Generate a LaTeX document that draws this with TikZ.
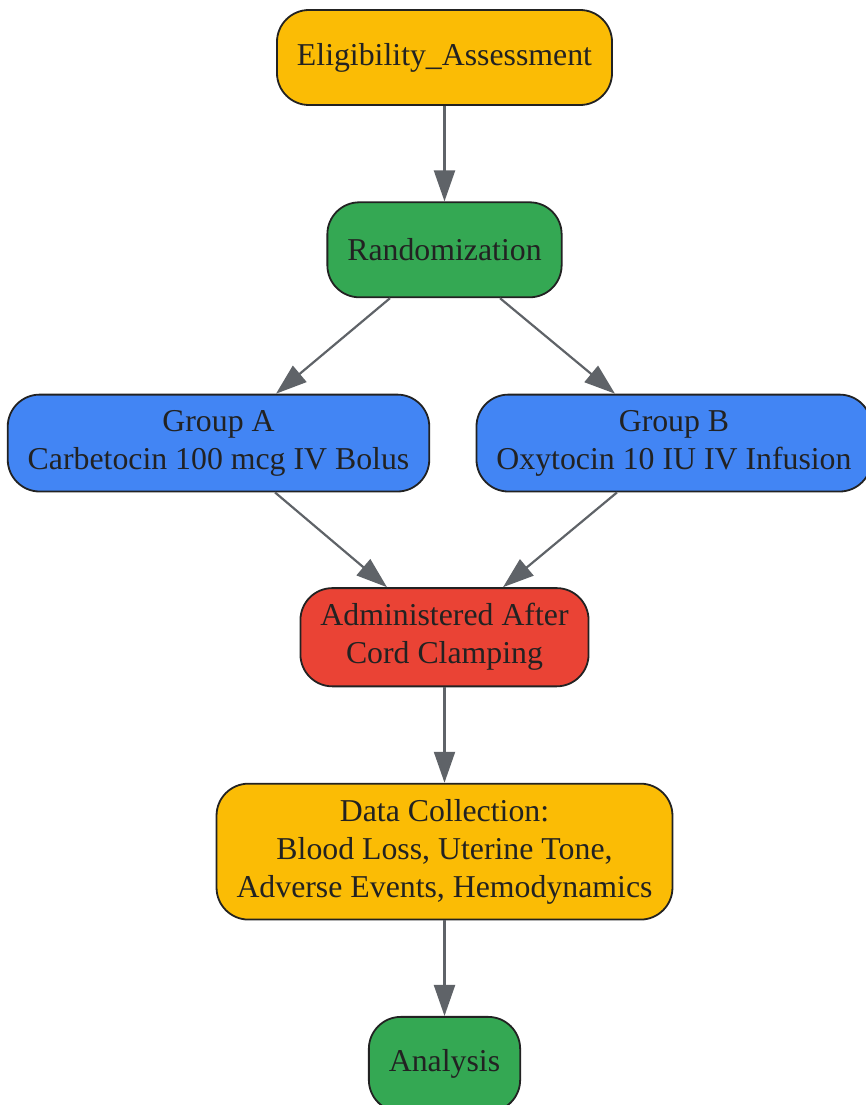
\documentclass[tikz,border=0pt]{standalone}
\usepackage{fontspec}
\setmainfont{Liberation Serif}
\usetikzlibrary{arrows.meta,positioning}

\definecolor{gyellow}{HTML}{FBBC05}
\definecolor{ggreen}{HTML}{34A853}
\definecolor{gblue}{HTML}{4285F4}
\definecolor{gred}{HTML}{EA4335}
\definecolor{edgegray}{HTML}{5F6368}
\definecolor{inkdark}{HTML}{222222}

\begin{document}
\begin{tikzpicture}[x=1pt,y=-1pt,node distance=95.5pt,
    ->,>={Triangle[length=31pt,width=21pt]},
    every edge/.style={draw=edgegray,line width=2.2pt}]

    \tikzstyle{stage}=[draw=inkdark,line width=1.8pt,rounded corners=32pt,
        text=inkdark,align=center,minimum height=95pt,inner xsep=20pt,inner ysep=15.5pt,
        font=\fontsize{31.8}{38}\selectfont]

    \useasboundingbox (0,0) rectangle (866,1105);

    \node[stage, fill=gyellow] (elig) at (444.5,57.5) {Eligibility\_Assessment};
    \node[stage, fill=ggreen]  (rand) [below=of elig] {Randomization};
    \node[stage, fill=gblue]   (ga)   [below=of rand, xshift=-226pt] {Group A\\Carbetocin 100 mcg IV Bolus};
    \node[stage, fill=gblue]   (gb)   [below=of rand, xshift=229.5pt] {Group B\\Oxytocin 10 IU IV Infusion};
    \node[stage, fill=gred]    (adm)  [below=289pt of rand] {Administered After\\Cord Clamping};
    \node[stage, fill=gyellow] (data) [below=of adm] {Data Collection:\\Blood Loss, Uterine Tone,\\Adverse Events, Hemodynamics};
    \node[stage, fill=ggreen]  (ana)  [below=of data] {Analysis};

    \path
    (elig) edge (rand)
    ([xshift=-54.5pt]rand.south) edge ([xshift=57.5pt]ga.north)
    ([xshift=55.5pt]rand.south) edge ([xshift=-59pt]gb.north)
    ([xshift=56.5pt]ga.south) edge ([xshift=-57.5pt]adm.north)
    ([xshift=-57pt]gb.south) edge ([xshift=58.5pt]adm.north)
    (adm) edge (data)
    (data) edge (ana)
    ;
\end{tikzpicture}
\end{document}
